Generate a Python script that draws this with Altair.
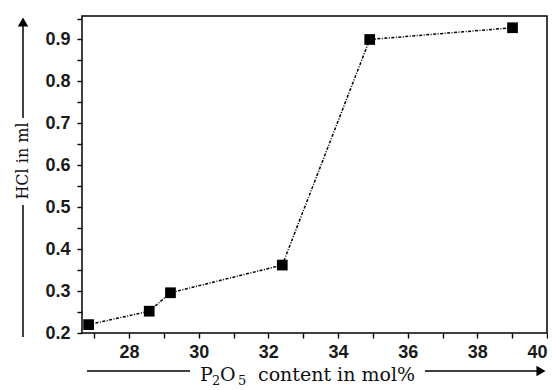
import altair as alt
import pandas as pd

p2o5 = [26.84, 28.58, 29.19, 32.40, 34.91, 39.01]
hcl = [0.22, 0.252, 0.296, 0.362, 0.900, 0.928]

x_ticks = list(range(27, 41))
y_ticks = [round(0.2 + 0.05 * i, 2) for i in range(16)]

y_title = "HCl in ml"
x_title_parts = ["P", "2", "O", "5", "content in mol%"]

df = pd.DataFrame({"p2o5": p2o5, "hcl": hcl})

W, H = 465, 317

xs = alt.Scale(domain=[26.65, 40], nice=False, zero=False)
ys = alt.Scale(domain=[0.2, 0.956], nice=False, zero=False)

common_axis = dict(domain=False, grid=False, tickSize=5, tickWidth=1.4, tickColor="black",
                   labelFont="Liberation Sans", labelFontSize=18, labelFontWeight="bold",
                   labelColor="#1a1a1a", labelOverlap=False)
xaxis = alt.Axis(values=x_ticks, format="d",
                 labelExpr="round(datum.value) % 2 === 0 ? format(datum.value, 'd') : ''",
                 labelPadding=5, labelFlush=True, **common_axis)
yaxis = alt.Axis(values=y_ticks, format=".1f",
                 labelExpr="round(datum.value*100) % 10 === 0 ? format(datum.value, '.1f') : ''",
                 labelPadding=7, labelFlush=False, **common_axis)

base = alt.Chart(df)

line = base.mark_line(color="black", strokeWidth=1.5, strokeDash=[3, 1.5, 1, 1.5]).encode(
    x=alt.X("p2o5:Q", scale=xs, axis=xaxis, title=None),
    y=alt.Y("hcl:Q", scale=ys, axis=yaxis, title=None),
)
pts = base.mark_square(color="black", size=115, opacity=1).encode(
    x=alt.X("p2o5:Q", scale=xs, axis=xaxis, title=None),
    y=alt.Y("hcl:Q", scale=ys, axis=yaxis, title=None),
)

one = pd.DataFrame({"a": [0]})
ann = alt.Chart(one)
serif = "DejaVu Serif"

# y-title arrow and text
y_line_top = ann.mark_rule(color="black", strokeWidth=1.5).encode(
    x=alt.value(-59), y=alt.value(6), y2=alt.value(102))
y_arrow = ann.mark_point(shape="triangle-up", filled=True, color="black", size=110, opacity=1).encode(
    x=alt.value(-59), y=alt.value(6))
y_text = ann.mark_text(text=y_title, angle=270, font=serif, fontSize=16, color="#111").encode(
    x=alt.value(-59), y=alt.value(145))
y_line_bot = ann.mark_rule(color="black", strokeWidth=1.5).encode(
    x=alt.value(-59), y=alt.value(189), y2=alt.value(321))

# x-title arrow and text pieces
x_line_l = ann.mark_rule(color="black", strokeWidth=1.5).encode(
    x=alt.value(5), x2=alt.value(108), y=alt.value(355))
x_line_r = ann.mark_rule(color="black", strokeWidth=1.5).encode(
    x=alt.value(343), x2=alt.value(458), y=alt.value(355))
x_arrow = ann.mark_point(shape="triangle-right", filled=True, color="black", size=110, opacity=1).encode(
    x=alt.value(459), y=alt.value(355))

piece_specs = [(x_title_parts[0], 118, 365, 19),
               (x_title_parts[1], 130, 369, 13),
               (x_title_parts[2], 138, 365, 19),
               (x_title_parts[3], 156, 369, 13),
               (x_title_parts[4], 176, 365, 19)]
pieces = [ann.mark_text(text=t, font=serif, fontSize=fs, color="#111", align="left",
                        baseline="alphabetic").encode(x=alt.value(px), y=alt.value(py))
          for t, px, py, fs in piece_specs]

chart = alt.layer(line, pts, y_line_top, y_arrow, y_text, y_line_bot,
                  x_line_l, x_line_r, x_arrow, *pieces).properties(
    width=W, height=H,
    autosize=alt.AutoSizeParams(type="none"),
    padding={"left": 74, "top": 8, "right": 1, "bottom": 55},
    background="white",
).configure_view(stroke="black", strokeWidth=1.5)

chart.save("out.html", embed_options={"renderer": "svg", "actions": False})
